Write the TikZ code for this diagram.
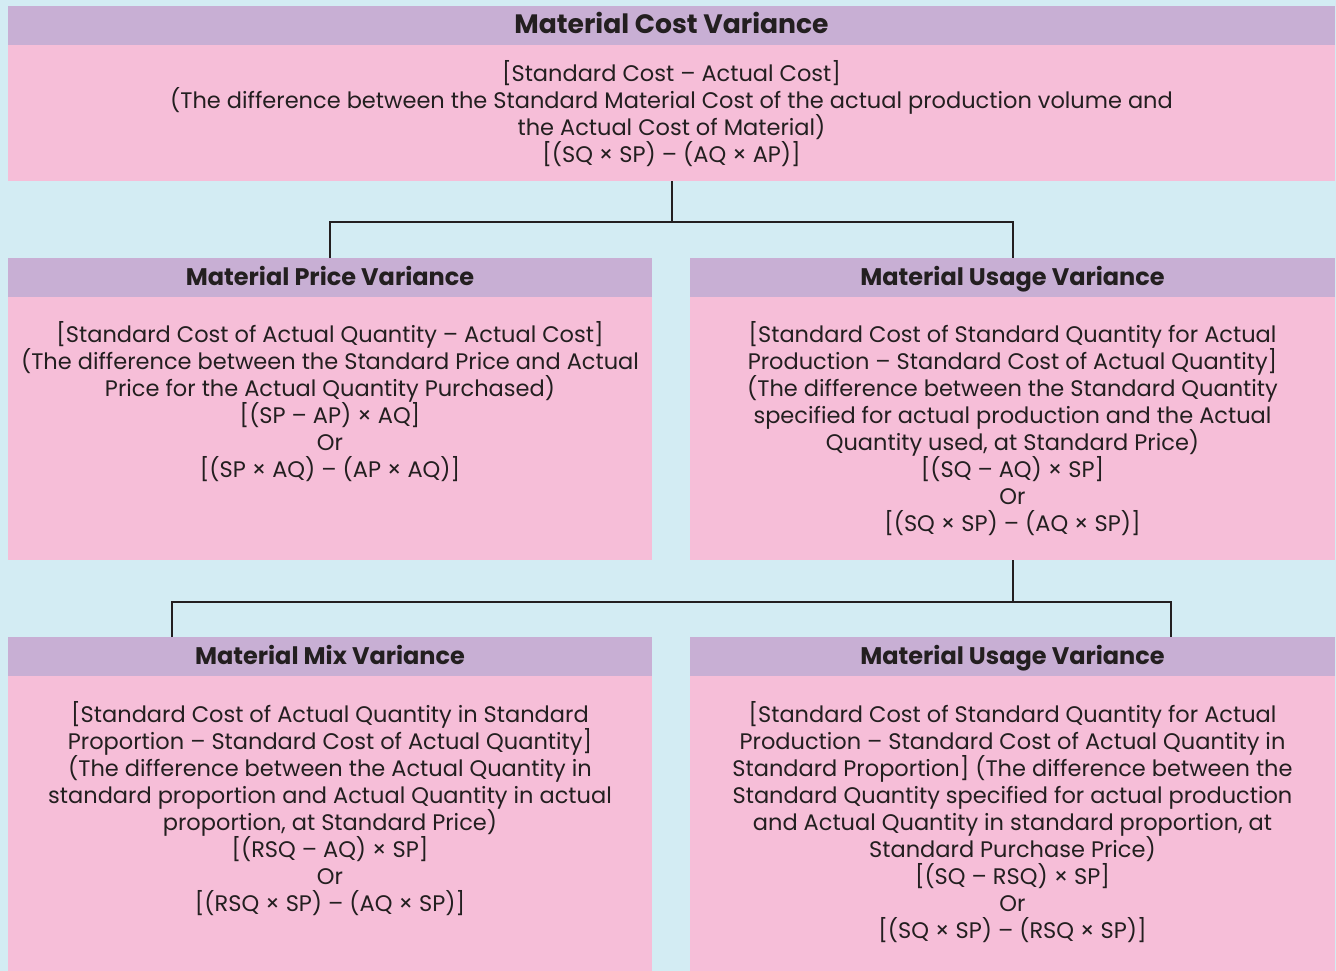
\documentclass[tikz,border=0pt]{standalone}
\usepackage{fontspec}
\setmainfont{Poppins}
\definecolor{bgblue}{HTML}{D3ECF3}
\definecolor{bandlilac}{HTML}{C8AFD4}
\definecolor{cardpink}{HTML}{F6BED8}
\definecolor{ink}{HTML}{231F20}
\begin{document}
\begin{tikzpicture}[x=1pt,y=-1pt,
  card/.style={fill=cardpink, draw=none, anchor=north west, inner sep=0pt, outer sep=0pt},
  band/.style={fill=bandlilac, draw=none, anchor=north west, inner sep=0pt, outer sep=0pt, minimum height=39pt},
  heading/.style={text=ink, font=\fontsize{24}{28}\selectfont\bfseries, inner sep=0pt, anchor=base},
  mainheading/.style={heading, font=\fontsize{26.6}{30}\selectfont\bfseries},
  body/.style={text=ink, font=\fontsize{22.5}{27}\selectfont, align=center, inner sep=0pt},
  link/.style={draw=ink, line width=2pt}]
\fill[bgblue] (0,0) rectangle (1336,971);
\useasboundingbox (0,0) rectangle (1336,971);

% top card
\node[card, minimum width=1327pt, minimum height=175pt] (top) at (8,6) {};
\node[band, minimum width=1327pt] (topband) at (8,6) {};
\node[mainheading] (toptitle) at ([yshift=-27.3pt]topband.north) {Material Cost Variance};
\node[body] (toptext) at (671.5,114) {{[}Standard Cost – Actual Cost{]}\\
(The difference between the Standard Material Cost of the actual production volume and\\
the Actual Cost of Material)\\
{[}(SQ × SP) – (AQ × AP){]}};

% middle row
\node[card, minimum width=644pt, minimum height=302pt] (ml) at (8,258) {};
\node[band, minimum width=644pt] (mlband) at (8,258) {};
\node[heading] (mltitle) at ([yshift=-27.3pt]mlband.north) {Material Price Variance};
\node[body] (mltext) at (330,401.5) {{[}Standard Cost of Actual Quantity – Actual Cost{]}\\
(The difference between the Standard Price and Actual\\
Price for the Actual Quantity Purchased)\\
{[}(SP – AP) × AQ{]}\\
Or\\
{[}(SP × AQ) – (AP × AQ){]}};

\node[card, minimum width=645pt, minimum height=302pt] (mr) at (690,258) {};
\node[band, minimum width=645pt] (mrband) at (690,258) {};
\node[heading] (mrtitle) at ([yshift=-27.3pt]mrband.north) {Material Usage Variance};
\node[body] (mrtext) at (1012.5,428.5) {{[}Standard Cost of Standard Quantity for Actual\\
Production – Standard Cost of Actual Quantity{]}\\
(The difference between the Standard Quantity\\
specified for actual production and the Actual\\
Quantity used, at Standard Price)\\
{[}(SQ – AQ) × SP{]}\\
Or\\
{[}(SQ × SP) – (AQ × SP){]}};

% bottom row
\node[card, minimum width=644pt, minimum height=334pt] (bl) at (8,637) {};
\node[band, minimum width=644pt] (blband) at (8,637) {};
\node[heading] (bltitle) at ([yshift=-27.3pt]blband.north) {Material Mix Variance};
\node[body] (bltext) at (330,808.5) {{[}Standard Cost of Actual Quantity in Standard\\
Proportion – Standard Cost of Actual Quantity{]}\\
(The difference between the Actual Quantity in\\
standard proportion and Actual Quantity in actual\\
proportion, at Standard Price)\\
{[}(RSQ – AQ) × SP{]}\\
Or\\
{[}(RSQ × SP) – (AQ × SP){]}};

\node[card, minimum width=645pt, minimum height=334pt] (br) at (690,637) {};
\node[band, minimum width=645pt] (brband) at (690,637) {};
\node[heading] (brtitle) at ([yshift=-27.3pt]brband.north) {Material Usage Variance};
\node[body] (brtext) at (1012.5,822) {{[}Standard Cost of Standard Quantity for Actual\\
Production – Standard Cost of Actual Quantity in\\
Standard Proportion{]} (The difference between the\\
Standard Quantity specified for actual production\\
and Actual Quantity in standard proportion, at\\
Standard Purchase Price)\\
{[}(SQ – RSQ) × SP{]}\\
Or\\
{[}(SQ × SP) – (RSQ × SP){]}};

% connectors
\draw[link] (top.south) -- ++(0,41) coordinate (j1);
\draw[link] (ml.north) |- (j1) -| (mr.north);
\draw[link] (mr.south) -- ++(0,42) coordinate (j2);
\draw[link] ([xshift=-158pt]bl.north) |- (j2) -| ([xshift=158pt]br.north);
\end{tikzpicture}
\end{document}
